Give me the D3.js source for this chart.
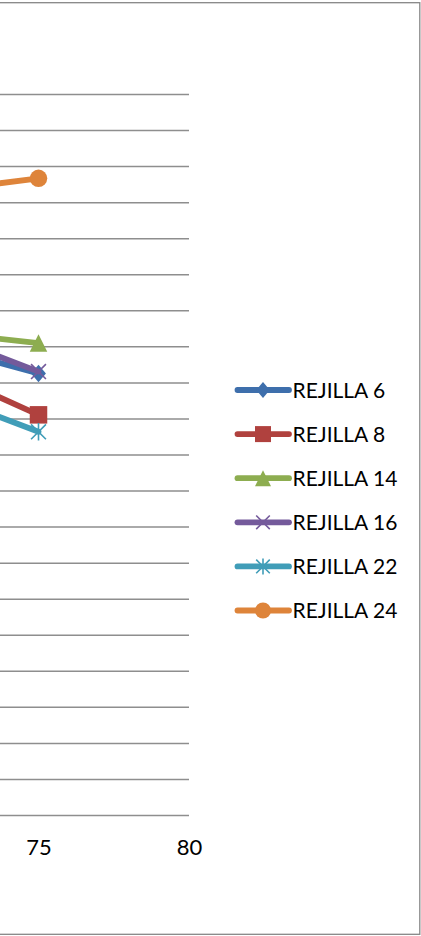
<!DOCTYPE html>
<html>
<head>
<meta charset="utf-8">
<script src="https://cdn.jsdelivr.net/npm/d3@7"></script>
<style>
  body { margin: 0; background: #fff; }
  svg { display: block; }
  text { font-family: Lato, "Open Sans", "Liberation Sans", sans-serif; fill: #000; }
</style>
</head>
<body>
<svg id="chart" width="421" height="936"></svg>
<script>
// Measurement points (x) and the readings of each grid
const xValues = [70, 75];
const seriesNames = ["REJILLA 6", "REJILLA 8", "REJILLA 14", "REJILLA 16", "REJILLA 22", "REJILLA 24"];
const rejilla6  = [13.38, 12.25];
const rejilla8  = [12.98, 11.10];
const rejilla14 = [13.54, 13.09];
const rejilla16 = [13.90, 12.30];
const rejilla22 = [12.23, 10.63];
const rejilla24 = [17.13, 17.66];
const xTicks = [75, 80];
const yTicks = d3.range(0, 21, 1);

const seriesValues = [rejilla6, rejilla8, rejilla14, rejilla16, rejilla22, rejilla24];
const colors = ["#3E6FAC", "#B0413E", "#8DAD50", "#745A9B", "#409DB8", "#DE843A"];
const markers = ["diamond", "square", "triangle", "x", "star", "circle"];

const svg = d3.select("#chart");

// Outer chart frame (left edge lies beyond the view)
svg.append("rect")
  .attr("x", -60).attr("y", 2.7)
  .attr("width", 479.8).attr("height", 931.6)
  .attr("fill", "#fff").attr("stroke", "#868686").attr("stroke-width", 1.3);

const plotTop = 94, plotBottom = 815, plotRight = 189;
const x = d3.scaleLinear().domain([55, 80]).range([plotRight - 25 * 30.1, plotRight]);
const y = d3.scaleLinear().domain([0, 20]).range([plotBottom, plotTop]);

// Horizontal gridlines, including the category axis line at 0
const gridAxis = d3.axisLeft(y).tickValues(yTicks)
  .tickSize(-(x.range()[1] - x.range()[0])).tickFormat("");
svg.append("g")
  .attr("transform", `translate(${x.range()[0]},0)`)
  .call(gridAxis)
  .call(g => g.select(".domain").remove())
  .call(g => g.selectAll(".tick line").attr("stroke", "#8E8E8E").attr("stroke-width", 1.5));

// X axis labels
const xAxis = d3.axisBottom(x).tickValues(xTicks).tickSize(0).tickPadding(0);
svg.append("g")
  .attr("transform", `translate(0,${plotBottom})`)
  .call(xAxis)
  .call(g => g.select(".domain").remove())
  .call(g => g.selectAll(".tick text")
    .attr("y", 40).attr("dy", null)
    .style("font-family", "Lato, 'Open Sans', sans-serif")
    .style("font-size", "22px").attr("fill", "#000"));

function drawMarker(g, type, cx, cy, s, color) {
  const h = s / 2;
  if (type === "circle") {
    g.append("circle").attr("cx", cx).attr("cy", cy).attr("r", h).attr("fill", color);
  } else if (type === "square") {
    g.append("rect").attr("x", cx - h).attr("y", cy - h).attr("width", s).attr("height", s).attr("fill", color);
  } else if (type === "diamond") {
    g.append("path").attr("d", `M${cx},${cy - h}L${cx + h * 0.85},${cy}L${cx},${cy + h}L${cx - h * 0.85},${cy}Z`).attr("fill", color);
  } else if (type === "triangle") {
    g.append("path").attr("d", `M${cx},${cy - h}L${cx + h},${cy + h}L${cx - h},${cy + h}Z`).attr("fill", color);
  } else if (type === "x" || type === "star") {
    const k = h * 0.85;
    let d = `M${cx - k},${cy - k}L${cx + k},${cy + k}M${cx - k},${cy + k}L${cx + k},${cy - k}`;
    if (type === "star") d += `M${cx},${cy - h}L${cx},${cy + h}`;
    g.append("path").attr("d", d).attr("stroke", color).attr("stroke-width", 1.6).attr("fill", "none");
  }
}

const line = d3.line().x((d, i) => x(xValues[i])).y(d => y(d));
seriesValues.forEach((vals, si) => {
  const g = svg.append("g");
  g.append("path").datum(vals).attr("d", line)
    .attr("fill", "none").attr("stroke", colors[si]).attr("stroke-width", 5.8)
    .attr("stroke-linejoin", "round").attr("stroke-linecap", "round");
  vals.forEach((v, i) => drawMarker(g, markers[si], x(xValues[i]), y(v), 17.5, colors[si]));
});

// Legend
const legend = svg.append("g");
seriesNames.forEach((name, i) => {
  const cy = 390 + i * 44.1;
  const g = legend.append("g");
  g.append("line").attr("x1", 237.5).attr("x2", 289).attr("y1", cy).attr("y2", cy)
    .attr("stroke", colors[i]).attr("stroke-width", 5.8).attr("stroke-linecap", "round");
  drawMarker(g, markers[i], 263, cy, 16, colors[i]);
  g.append("text").attr("x", 292.5).attr("y", cy + 7.5)
    .style("font-size", "21px").text(name);
});
</script>
</body>
</html>
